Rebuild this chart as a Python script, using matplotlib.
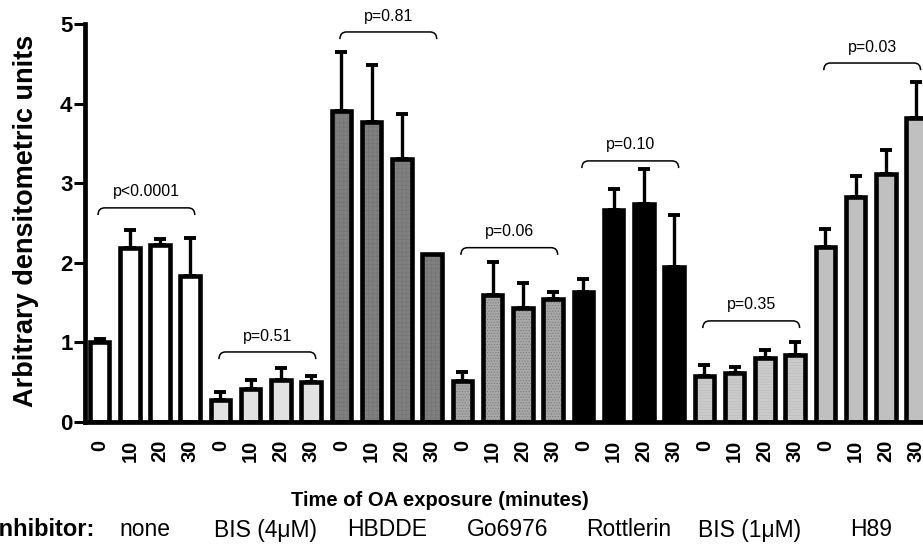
import matplotlib
matplotlib.use("Agg")
import matplotlib.pyplot as plt
import numpy as np
from matplotlib.path import Path
from matplotlib.patches import PathPatch

plt.rcParams["font.family"] = ["Liberation Sans", "DejaVu Sans"]
plt.rcParams["hatch.linewidth"] = 0.5

# data
groups = ["none", "BIS (4\u03bcM)", "HBDDE", "Go6976", "Rottlerin", "BIS (1\u03bcM)", "H89"]
times = ["0", "10", "20", "30"]
none_vals = [1.00, 2.18, 2.22, 1.83]
bis4_vals = [0.28, 0.41, 0.53, 0.50]
hbdde_vals = [3.91, 3.77, 3.30, 2.11]
go_vals = [0.51, 1.60, 1.43, 1.54]
rott_vals = [1.63, 2.66, 2.74, 1.95]
bis1_vals = [0.58, 0.61, 0.81, 0.84]
h89_vals = [2.20, 2.83, 3.12, 3.82]

none_err = [0.04, 0.23, 0.08, 0.48]
bis4_err = [0.10, 0.12, 0.15, 0.08]
hbdde_err = [0.74, 0.72, 0.57, 0.0]
go_err = [0.12, 0.41, 0.32, 0.09]
rott_err = [0.17, 0.27, 0.44, 0.65]
bis1_err = [0.14, 0.08, 0.09, 0.17]
h89_err = [0.22, 0.26, 0.30, 0.45]

p_labels = ["p<0.0001", "p=0.51", "p=0.81", "p=0.06", "p=0.10", "p=0.35", "p=0.03"]
bracket_y = [2.69, 0.88, 4.90, 2.19, 3.28, 1.27, 4.51]

# styles per group
face = ["white", "#e2e2e2", "#808080", "#a8a8a8", "black", "#cbcbcb", "#c0c0c0"]
hatch = [None, None, "++++", "......", None, "------", None]
hatch_col = [None, None, "#747474", "#7a7a7a", None, "#bcbcbc", None]

vals = [none_vals, bis4_vals, hbdde_vals, go_vals, rott_vals, bis1_vals, h89_vals]
errs = [none_err, bis4_err, hbdde_err, go_err, rott_err, bis1_err, h89_err]

W, H = 923, 549
fig = plt.figure(figsize=(W / 100, H / 100), dpi=100)
ax_left, ax_bottom, ax_top = 85, 422, 24
ax = fig.add_axes([ax_left / W, (H - ax_bottom) / H, (W - ax_left) / W,
                   (ax_bottom - ax_top) / H])

bw = 0.645
for g in range(len(groups)):
    x = np.arange(4) + 4 * g
    ax.bar(x, vals[g], width=bw, color=face[g], linewidth=0, zorder=2)
    if hatch[g]:
        ax.bar(x, vals[g], width=bw, fill=False, hatch=hatch[g],
               edgecolor=hatch_col[g], linewidth=0, zorder=2.5)
    ax.bar(x, vals[g], width=bw, fill=False, edgecolor="black",
           linewidth=3.3, zorder=3)
    e = np.array(errs[g])
    m = e > 0
    ax.errorbar(x[m], np.array(vals[g])[m], yerr=[np.zeros(m.sum()), e[m]],
                fmt="none", ecolor="black", elinewidth=2.4, capsize=4.5,
                capthick=2.8, zorder=1)

    # curly bracket with p-value
    x1, x2 = 4 * g - 0.05, 4 * g + 3.15
    y = bracket_y[g]
    r, d = 0.22, 0.09
    verts = [(x1, y - d), (x1, y), (x1 + r, y), (x2 - r, y), (x2, y), (x2, y - d)]
    codes = [Path.MOVETO, Path.CURVE3, Path.CURVE3, Path.LINETO,
             Path.CURVE3, Path.CURVE3]
    ax.add_patch(PathPatch(Path(verts, codes), fill=False, lw=1.1,
                           edgecolor="black", clip_on=False, zorder=4))
    ax.text((x1 + x2) / 2, y + 0.2, p_labels[g], ha="center", va="center",
            fontsize=11.5, clip_on=False)

ax.set_xlim(-0.48, 27.23)
ax.set_ylim(0, 5)
ax.set_yticks([0, 1, 2, 3, 4, 5])
ax.set_xticks(np.arange(28))
ax.set_xticklabels(times * len(groups), rotation=90, fontsize=14.5,
                   fontweight="bold", va="top")
ax.tick_params(axis="x", length=0, pad=13)
ax.tick_params(axis="y", length=8, width=2.2, pad=1, labelsize=16)
for lab in ax.get_yticklabels():
    lab.set_fontweight("bold")
for s in ["top", "right"]:
    ax.spines[s].set_visible(False)
ax.spines["left"].set_linewidth(3.4)
ax.spines["bottom"].set_linewidth(3.4)

fig.text(26 / W, (H - 221) / H, "Arbitrary densitometric units", rotation=90,
         ha="center", va="center", fontsize=19.5, fontweight="bold")
fig.text(440 / W, (H - 500) / H, "Time of OA exposure (minutes)",
         ha="center", va="center", fontsize=14.5, fontweight="bold")
fig.text(95 / W, (H - 530) / H, "Inhibitor:", ha="right", va="center",
         fontsize=17, fontweight="bold")
for g, name in enumerate(groups):
    xc = ax.transData.transform((4 * g + 1.5, 0))[0]
    fig.text(xc / W, (H - 530) / H, name, ha="center", va="center", fontsize=16.5)

fig.savefig("out.png", dpi=100)
